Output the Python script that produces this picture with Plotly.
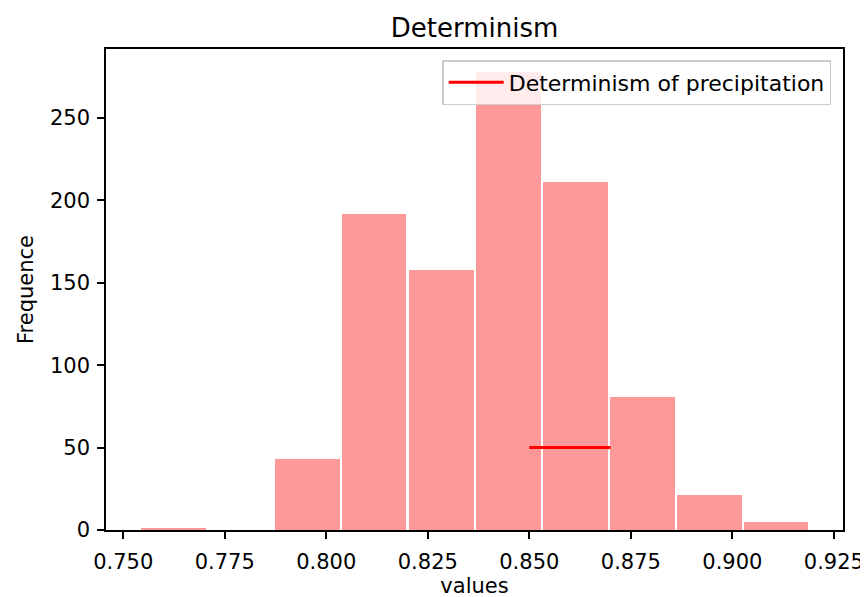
import plotly.graph_objects as go

# Histogram data
bin_start = 0.7540
bin_width = 0.01650
counts = [1, 0, 43, 192, 158, 278, 211, 81, 21, 5]

# Reference line
line_x = [0.85, 0.87]
line_y = [50, 50]
line_name = "Determinism of precipitation"

x_ticks = [0.750, 0.775, 0.800, 0.825, 0.850, 0.875, 0.900, 0.925]
x_tick_labels = ["0.750", "0.775", "0.800", "0.825", "0.850", "0.875", "0.900", "0.925"]
y_ticks = [0, 50, 100, 150, 200, 250]

centers = [bin_start + bin_width * (i + 0.5) for i in range(len(counts))]

FONT = "DejaVu Sans, Verdana, sans-serif"
TICK = 21

fig = go.Figure()
fig.add_trace(go.Bar(
    x=centers, y=counts, width=[bin_width * 0.97] * len(counts),
    marker=dict(color="#ff9999", line=dict(width=0)),
    showlegend=False, hoverinfo="x+y",
))
fig.add_trace(go.Scatter(
    x=line_x, y=line_y, mode="lines", name=line_name,
    line=dict(color="red", width=3),
))

lo = bin_start
hi = bin_start + bin_width * len(counts)
pad = 0.05 * (hi - lo)
ymax = max(counts) * 1.05

axis_common = dict(
    showgrid=False, zeroline=False, showline=True, linecolor="black", linewidth=1.6,
    mirror=True, ticks="outside", ticklen=7, tickwidth=1.6, tickcolor="black",
    tickfont=dict(size=TICK, family=FONT, color="black"),
)

fig.update_layout(
    width=868, height=597,
    margin=dict(l=98, r=22, t=41, b=72),
    paper_bgcolor="white", plot_bgcolor="white",
    font=dict(family=FONT, size=TICK, color="black"),
    title=dict(text="Determinism", x=0.5, xanchor="center", xref="paper",
               y=1 - 20 / 597, yref="container", yanchor="middle",
               font=dict(size=26, family=FONT, color="black")),
    bargap=0,
    showlegend=True,
    legend=dict(x=0.984, y=0.977, xanchor="right", yanchor="top",
                bgcolor="rgba(255,255,255,0.8)", bordercolor="#cccccc", borderwidth=1.5,
                font=dict(size=22, family=FONT, color="black"),
                itemwidth=55),
    xaxis=dict(range=[lo - pad, hi + pad], tickvals=x_ticks, ticktext=x_tick_labels,
               ticklabelstandoff=5,
               title=dict(text="values", font=dict(size=TICK, family=FONT), standoff=4),
               **axis_common),
    yaxis=dict(range=[0, ymax], tickvals=y_ticks, ticklabelstandoff=3,
               title=dict(text="Frequence", font=dict(size=TICK, family=FONT), standoff=11),
               **axis_common),
)

fig.write_html("out.html")
